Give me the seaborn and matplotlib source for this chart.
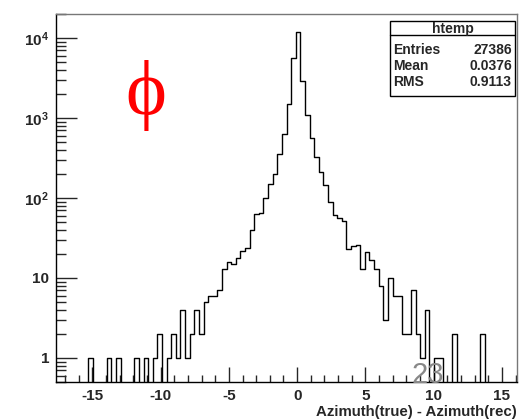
import numpy as np
import pandas as pd
import seaborn as sns
import matplotlib
matplotlib.use("Agg")
import matplotlib.pyplot as plt
from matplotlib.ticker import FixedLocator, FixedFormatter, NullFormatter
from matplotlib.patches import Rectangle

# ---- data ----
x_min, x_max, n_bins = -17.66, 16.10, 100
counts = [0, 0, 0, 0, 0, 0, 0, 1, 0, 0,
          0, 1, 0, 1, 0, 0, 0, 1, 0, 1,
          0, 1, 2, 0, 1, 2, 1, 4, 1, 2,
          4, 2, 5, 6, 6, 7, 13, 16, 15, 18,
          22, 24, 40, 63, 65, 100, 150, 200, 350, 640,
          1500, 5700, 12000, 2900, 1100, 560, 330, 210, 145, 88,
          61, 57, 52, 23, 25, 26, 13, 21, 17, 13,
          8, 3, 10, 6, 6, 2, 2, 7, 2, 1,
          4, 0, 1, 1, 0, 0, 2, 0, 0, 0,
          0, 0, 2, 0, 0, 0, 0, 0, 0, 0]
x_ticks = [-15, -10, -5, 0, 5, 10, 15]
y_ticks = [1, 10, 100, 1000, 10000]
y_tick_labels = ["1", "10", "10$^{2}$", "10$^{3}$", "10$^{4}$"]
stats_title = "htemp"
stats_names = ["Entries", "Mean", "RMS"]
stats_values = ["27386", "0.0376", "0.9113"]
x_label = "Azimuth(true) - Azimuth(rec)"

edges = [float(e) for e in np.linspace(x_min, x_max, n_bins + 1)]
centers = [0.5 * (edges[i] + edges[i + 1]) for i in range(n_bins)]
df = pd.DataFrame({"x": centers, "w": counts})

sns.set_style("white")
plt.rcParams["font.family"] = ["Liberation Sans", "DejaVu Sans"]
plt.rcParams["mathtext.fontset"] = "custom"
plt.rcParams["mathtext.rm"] = "Liberation Sans:bold"
plt.rcParams["mathtext.it"] = "Liberation Sans:bold"
plt.rcParams["mathtext.bf"] = "Liberation Sans:bold"

W, H = 528, 420
fig = plt.figure(figsize=(W / 100, H / 100), dpi=100)
L, R, T, B = 56, 517, 14, 382
ax = fig.add_axes([L / W, (H - B) / H, (R - L) / W, (B - T) / H])
ax.set_yscale("log")

sns.histplot(data=df, x="x", weights="w", bins=edges, element="step",
             fill=False, color="black", linewidth=1.0, ax=ax)

ax.set_xlim(x_min, x_max)
ax.set_ylim(0.5, 2.0e4)
ax.set_xlabel("")
ax.set_ylabel("")

for s in ax.spines.values():
    s.set_color("black")
    s.set_linewidth(1.0)
ax.spines["top"].set_color("#777777")
ax.spines["right"].set_color("#777777")

ax.xaxis.set_major_locator(FixedLocator(x_ticks))
ax.xaxis.set_minor_locator(FixedLocator(np.arange(-17, 17, 1)))
ax.yaxis.set_major_locator(FixedLocator(y_ticks))
minor_y = [m * 10 ** e for e in range(-1, 5) for m in range(2, 10)]
ax.yaxis.set_minor_locator(FixedLocator(minor_y))
ax.yaxis.set_major_formatter(FixedFormatter(y_tick_labels))
ax.yaxis.set_minor_formatter(NullFormatter())
ax.xaxis.set_major_formatter(FixedFormatter([str(t) for t in x_ticks]))

ax.tick_params(axis="x", which="major", direction="in", length=11, width=1,
               top=False, bottom=True, labelsize=11, pad=5)
ax.tick_params(axis="x", which="minor", direction="in", length=5, width=1,
               top=False, bottom=True)
ax.tick_params(axis="y", which="major", direction="in", length=15, width=1,
               left=True, right=False, labelsize=11, pad=5)
ax.tick_params(axis="y", which="minor", direction="in", length=7, width=1,
               left=True, right=False)
for lab in ax.get_xticklabels() + ax.get_yticklabels():
    lab.set_fontweight("bold")

# x axis title
fig.text(R / W, 1 - 416 / H, x_label, ha="right", va="baseline",
         fontsize=10.8, fontweight="bold")

# red phi
fig.text(146 / W, 1 - 95 / H, "\u03d5", ha="center", va="center", color="red",
         fontsize=56, family=["Liberation Serif", "DejaVu Serif"])

# gray "23"
fig.text(428 / W, 1 - 383 / H, "23", ha="center", va="baseline", color="#888888",
         fontsize=21)

# stats box
bx0, bx1, by0, by1 = 390, 515, 21.5, 96
fig.patches.append(Rectangle((bx0 / W, 1 - by1 / H), (bx1 - bx0) / W, (by1 - by0) / H,
                             transform=fig.transFigure, facecolor="white",
                             edgecolor="black", linewidth=1.0, zorder=5))
fig.lines.append(plt.Line2D([bx0 / W, bx1 / W], [1 - 35 / H, 1 - 35 / H],
                            transform=fig.transFigure, color="black", linewidth=1.0, zorder=6))
fig.text((bx0 + bx1) / 2 / W, 1 - 29 / H, stats_title, ha="center", va="center",
         fontsize=10, fontweight="bold", zorder=7)
for i, (n, v) in enumerate(zip(stats_names, stats_values)):
    yy = 1 - (50 + i * 16) / H
    fig.text((bx0 + 3) / W, yy, n, ha="left", va="center", fontsize=10,
             fontweight="bold", zorder=7)
    fig.text((bx1 - 3) / W, yy, v, ha="right", va="center", fontsize=10,
             fontweight="bold", zorder=7)

fig.savefig("out.png", dpi=100)
